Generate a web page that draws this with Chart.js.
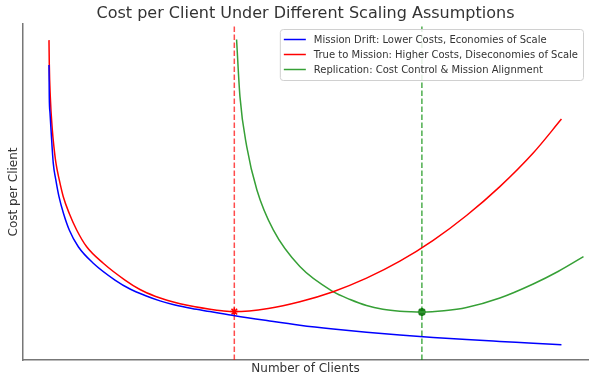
<!DOCTYPE html>
<html>
<head>
<meta charset="utf-8">
<script src="https://cdn.jsdelivr.net/npm/chart.js@4.4.1/dist/chart.umd.min.js"></script>
<style>
  html, body { margin: 0; padding: 0; background: #fff; }
  #wrap { width: 606px; height: 384px; }
</style>
</head>
<body>
<div id="wrap"><canvas id="costChart"></canvas></div>
<script>
// values (x: position along "Number of Clients", y: cost, both 0-100 scale)
const blueX = [4.6, 4.65, 4.78, 4.96, 5.36, 5.81, 6.37, 7.17, 8.19, 9.79, 12.44, 16.28, 18.94, 21.6, 24.25, 26.9, 29.9, 33.1, 37.5, 43.4, 49.0, 54.9, 60.8, 66.7, 72.6, 78.5, 84.4, 90.3, 95.3];
const blueY = [87.8, 78.4, 73.5, 68.5, 58.5, 53.6, 48.6, 43.6, 38.7, 33.7, 28.8, 23.8, 21.13, 19.2, 17.6, 16.37, 15.33, 14.43, 13.15, 11.67, 10.36, 9.23, 8.27, 7.44, 6.73, 6.10, 5.54, 5.0, 4.52];

const redX = [4.6, 4.65, 4.83, 5.19, 5.47, 5.84, 6.42, 7.13, 8.19, 9.5, 11.27, 14.21, 18.05, 20.7, 23.36, 25.49, 27.8, 30.44, 33.1, 35.2, 37.4, 43.4, 49.0, 54.9, 60.8, 66.7, 72.6, 78.5, 84.4, 90.3, 95.3];
const redY = [95.2, 88.3, 78.4, 68.5, 63.5, 58.5, 53.6, 48.6, 43.6, 38.7, 33.7, 28.8, 23.8, 20.98, 18.99, 17.8, 16.76, 15.83, 15.12, 14.67, 14.4, 15.36, 17.35, 20.33, 24.35, 29.4, 35.6, 43.0, 51.6, 61.6, 71.7];

const greenX = [37.8, 38.4, 39.6, 41.4, 44.3, 49.0, 54.9, 57.9, 60.8, 63.7, 66.7, 68.7, 70.6, 74.5, 78.5, 84.4, 90.3, 94.7, 99.2];
const greenY = [95.4, 78.4, 63.5, 50.6, 38.7, 27.8, 20.33, 18.0, 16.22, 15.12, 14.52, 14.35, 14.29, 14.67, 15.63, 18.45, 22.62, 26.34, 30.75];

const optimumX = [37.4, 70.6];   // red, green
const optimumY = [14.4, 14.29];

const chartTitle = 'Cost per Client Under Different Scaling Assumptions';
const seriesLabels = [
  'Mission Drift: Lower Costs, Economies of Scale',
  'True to Mission: Higher Costs, Diseconomies of Scale',
  'Replication: Cost Control & Mission Alignment'
];
const seriesColors = ['#0000ff', '#ff0000', '#36a036'];

const FONT = 'DejaVu Sans';

function pts(xs, ys) {
  return xs.map((x, i) => ({ x: x, y: ys[i] }));
}

// title centred over the axes and legend inside the plot area (matplotlib style)
const axesDecor = {
  id: 'axesDecor',
  afterDraw(chart) {
    const ctx = chart.ctx;
    const area = chart.chartArea;
    ctx.save();

    ctx.font = '16px "' + FONT + '"';
    ctx.fillStyle = '#333';
    ctx.textAlign = 'center';
    ctx.textBaseline = 'middle';
    ctx.fillText(chartTitle, (area.left + area.right) / 2, 13.5);

    ctx.textAlign = 'left';
    ctx.font = '10px "' + FONT + '"';
    let textW = 0;
    seriesLabels.forEach(l => { textW = Math.max(textW, ctx.measureText(l).width); });
    const rowH = 15;
    const w = 4 + 22 + 8 + textW + 5;
    const h = rowH * seriesLabels.length + 6;
    const x0 = area.right - 5 - w;
    const y0 = area.top + 5;
    ctx.fillStyle = 'rgba(255,255,255,0.85)';
    ctx.strokeStyle = '#d0d0d0';
    ctx.lineWidth = 1;
    ctx.beginPath();
    ctx.roundRect(x0 + 0.5, y0 + 0.5, w, h, 3);
    ctx.fill();
    ctx.stroke();
    seriesLabels.forEach((l, i) => {
      const cy = y0 + 3 + rowH * i + rowH / 2;
      ctx.strokeStyle = seriesColors[i];
      ctx.lineWidth = 1.5;
      ctx.beginPath();
      ctx.moveTo(x0 + 4, cy);
      ctx.lineTo(x0 + 26, cy);
      ctx.stroke();
      ctx.fillStyle = '#333';
      ctx.fillText(l, x0 + 34, cy + 0.5);
    });
    ctx.restore();
  }
};

const ctx = document.getElementById('costChart').getContext('2d');

new Chart(ctx, {
  type: 'line',
  data: {
    datasets: [
      {
        label: seriesLabels[0],
        data: pts(blueX, blueY),
        borderColor: seriesColors[0],
        borderWidth: 1.5,
        pointRadius: 0,
        cubicInterpolationMode: 'monotone'
      },
      {
        label: seriesLabels[1],
        data: pts(redX, redY),
        borderColor: seriesColors[1],
        borderWidth: 1.5,
        pointRadius: 0,
        cubicInterpolationMode: 'monotone'
      },
      {
        label: seriesLabels[2],
        data: pts(greenX, greenY),
        borderColor: seriesColors[2],
        borderWidth: 1.5,
        pointRadius: 0,
        cubicInterpolationMode: 'monotone'
      },
      {
        label: 'red optimum',
        data: [{ x: optimumX[0], y: 0 }, { x: optimumX[0], y: 100 }],
        borderColor: 'rgba(255,0,0,0.7)',
        borderWidth: 1.5,
        borderDash: [5.5, 2.5],
        pointRadius: 0
      },
      {
        label: 'green optimum',
        data: [{ x: optimumX[1], y: 0 }, { x: optimumX[1], y: 100 }],
        borderColor: 'rgba(0,140,0,0.7)',
        borderWidth: 1.5,
        borderDash: [5.5, 2.5],
        pointRadius: 0
      },
      {
        label: 'red min',
        data: [{ x: optimumX[0], y: optimumY[0] }],
        showLine: false,
        pointStyle: 'star',
        pointRadius: 4,
        borderWidth: 1.5,
        borderColor: '#ff0000',
        backgroundColor: '#ff0000'
      },
      {
        label: 'green min',
        data: [{ x: optimumX[1], y: optimumY[1] }],
        showLine: false,
        pointStyle: 'star',
        pointRadius: 4,
        borderWidth: 2.5,
        borderColor: '#1f7a1f',
        backgroundColor: '#1f7a1f'
      }
    ]
  },
  options: {
    responsive: true,
    maintainAspectRatio: false,
    animation: false,
    layout: { padding: { left: 0, right: 18, top: 24, bottom: 0 } },
    plugins: {
      legend: { display: false },
      tooltip: { enabled: false },
      title: { display: false }
    },
    scales: {
      x: {
        type: 'linear',
        min: 0,
        max: 100,
        grid: { display: false, drawTicks: false },
        border: { display: true, color: '#777', width: 1.5 },
        ticks: { display: false },
        title: {
          display: true,
          text: 'Number of Clients',
          color: '#333',
          font: { family: FONT, size: 12 },
          padding: { top: 1.6, bottom: 8 }
        }
      },
      y: {
        type: 'linear',
        min: 0,
        max: 100,
        grid: { display: false, drawTicks: false },
        border: { display: true, color: '#777', width: 1.5 },
        ticks: { display: false },
        title: {
          display: true,
          text: 'Cost per Client',
          color: '#333',
          font: { family: FONT, size: 12 },
          padding: { top: 7, bottom: 1.6 }
        }
      }
    }
  },
  plugins: [axesDecor]
});
</script>
</body>
</html>
